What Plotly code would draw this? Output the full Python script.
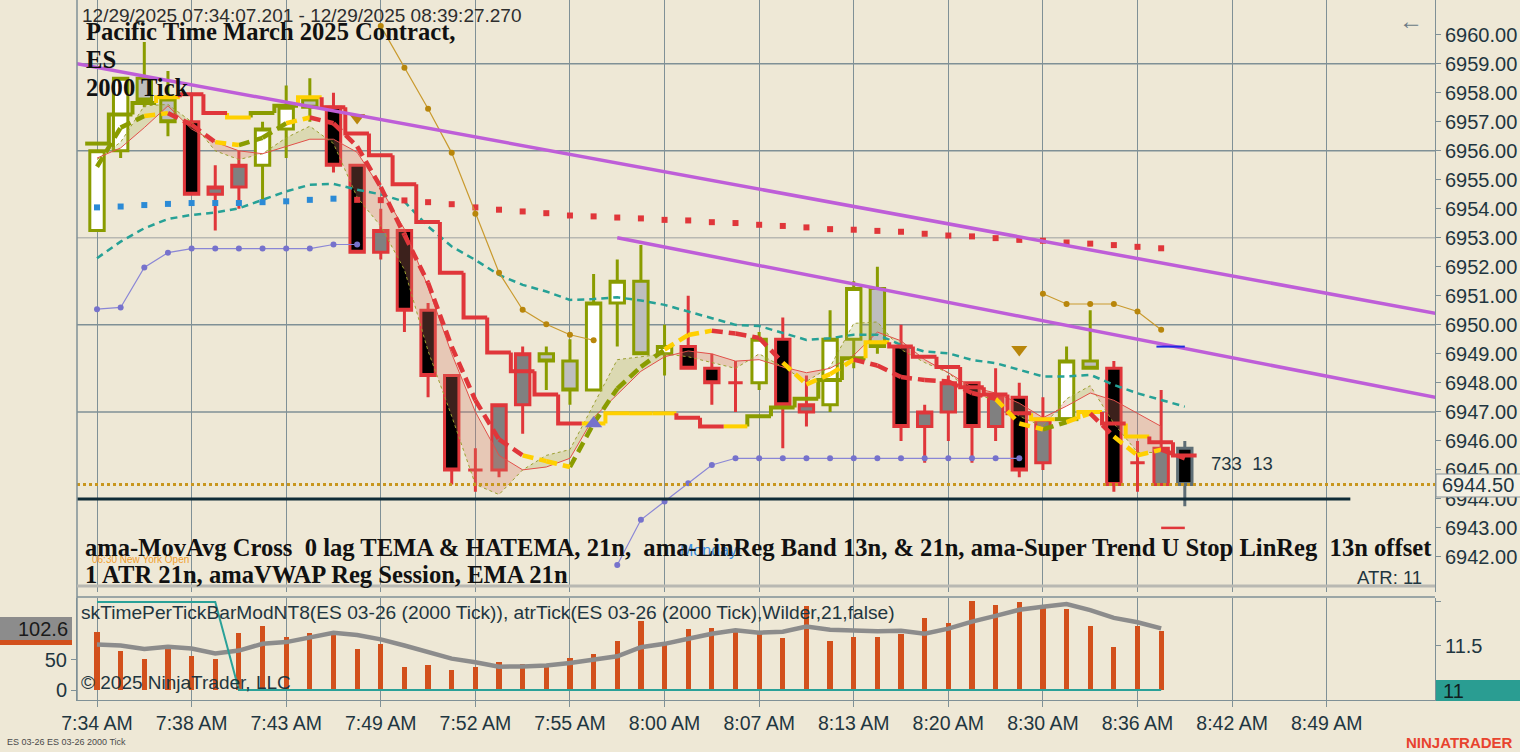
import plotly.graph_objects as go

# ---- price bars (2000 tick ES 03-26) ----
opens = [6953.25, 6956.0, 6958.5, 6957.75, 6957.0, 6954.5, 6954.75, 6955.5, 6956.75, 6957.75,
         6957.5, 6955.5, 6952.5, 6953.25, 6950.5, 6948.25, 6945.0, 6945.0, 6947.25, 6949.0,
         6948.75, 6947.75, 6950.75, 6951.5, 6949.0, 6949.25, 6948.5, 6948.0, 6948.0, 6949.5,
         6947.0, 6947.25, 6949.5, 6951.25, 6949.25, 6946.5, 6947.0, 6948.0, 6946.5, 6947.5,
         6945.25, 6946.75, 6948.75, 6948.5, 6945.25, 6944.5, 6945.75]
highs = [6956.0, 6958.5, 6959.75, 6958.75, 6958.0, 6955.5, 6956.0, 6957.0, 6958.25, 6958.5,
         6958.0, 6955.5, 6954.0, 6953.25, 6950.75, 6948.25, 6945.75, 6947.25, 6949.25, 6949.25,
         6949.5, 6951.75, 6952.25, 6952.75, 6950.0, 6951.0, 6949.0, 6948.75, 6949.75, 6950.25,
         6948.25, 6950.5, 6951.5, 6952.0, 6950.0, 6947.25, 6948.25, 6948.0, 6948.5, 6948.0,
         6947.5, 6949.25, 6950.5, 6948.75, 6946.0, 6947.75, 6946.0]
lows = [6953.25, 6955.75, 6957.5, 6956.5, 6954.5, 6953.25, 6954.0, 6954.25, 6955.75, 6957.0,
        6955.25, 6952.5, 6952.25, 6949.75, 6947.5, 6944.5, 6944.25, 6944.75, 6946.25, 6947.75,
        6947.25, 6947.75, 6949.25, 6949.0, 6948.25, 6948.5, 6947.25, 6947.0, 6947.75, 6945.75,
        6946.5, 6947.0, 6948.5, 6949.0, 6946.0, 6945.25, 6946.0, 6945.25, 6946.0, 6944.75,
        6945.0, 6946.75, 6948.5, 6944.25, 6944.25, 6944.5, 6943.75]
closes = [6956.0, 6958.5, 6957.75, 6957.0, 6954.5, 6954.75, 6955.5, 6956.75, 6957.5, 6957.5,
          6955.5, 6952.5, 6953.25, 6950.5, 6948.25, 6945.0, 6945.0, 6947.25, 6949.0, 6948.75,
          6947.75, 6950.75, 6951.5, 6949.0, 6949.25, 6948.5, 6948.0, 6948.0, 6949.5, 6947.25,
          6947.25, 6949.5, 6951.25, 6949.25, 6946.5, 6947.0, 6948.0, 6946.5, 6947.5, 6945.0,
          6946.75, 6948.75, 6948.5, 6944.5, 6945.25, 6945.75, 6944.5]
# paint-bar trend per closed bar: u = olive outline, d = red outline
bar_trend = list("uuuudddu uuddddddddduuuuuudddudduuuddddddduuddd".replace(" ", ""))

# ---- indicators ----
stop_line = [6956.25, 6957.25, 6957.65, 6957.85, 6957.95, 6957.3, 6957.15, 6957.3, 6957.55, 6957.85,
             6957.5, 6956.6, 6955.85, 6954.85, 6953.55, 6951.8, 6950.25, 6949.05, 6948.4, 6947.6,
             6946.6, 6946.6, 6946.95, 6946.95, 6946.95, 6946.8, 6946.5, 6946.5, 6946.85, 6947.15,
             6947.45, 6948.1, 6948.85, 6949.4, 6949.25, 6948.9, 6948.55, 6947.85, 6947.6, 6946.95,
             6946.75, 6946.75, 6947.0, 6946.6, 6946.15, 6945.95, 6945.5]
stop_state = list("gggyrryggyrrrrrrrrrrryyyyrrygggggyrrrrrrygyryrr")

tema = [6955.45, 6956.8, 6957.2, 6957.3, 6956.9, 6956.3, 6956.2, 6956.45, 6956.95, 6957.15,
        6956.95, 6956.15, 6954.75, 6953.1, 6951.45, 6949.25, 6947.4, 6946.05, 6945.5, 6945.3,
        6945.1, 6946.6, 6947.8, 6948.55, 6949.15, 6949.65, 6949.8, 6949.7, 6949.55, 6948.7,
        6947.95, 6948.3, 6948.8, 6948.6, 6948.2, 6948.1, 6948.05, 6947.65, 6947.45, 6946.6,
        6946.4, 6946.65, 6946.95, 6946.15, 6945.5, 6945.7, 6945.4]
tema_state = list("gggyrryggyrrrrrrrrryyggggyyrrryyyrrrrrryygyryyr")

hatema = [6955.75, 6956.1, 6956.8, 6957.55, 6956.75, 6956.3, 6956.0, 6955.9, 6956.15, 6956.4,
          6956.4, 6955.95, 6954.7, 6953.3, 6951.3, 6949.0, 6947.0, 6945.5, 6945.0, 6945.1,
          6945.4, 6946.8, 6947.6, 6948.4, 6948.9, 6949.1, 6949.0, 6948.75, 6948.8, 6948.55,
          6948.35, 6948.5, 6948.95, 6949.75, 6949.45, 6948.8, 6948.35, 6947.85, 6947.65, 6947.3,
          6946.8, 6947.2, 6947.65, 6947.4, 6946.95, 6946.5]
linreg = [6955.7, 6956.3, 6957.55, 6957.6, 6957.0, 6956.0, 6955.7, 6955.9, 6956.45, 6956.85,
          6956.25, 6954.4, 6953.4, 6951.9, 6949.1, 6946.85, 6944.5, 6944.15, 6945.0, 6945.5,
          6945.7, 6947.25, 6948.8, 6948.9, 6949.0, 6948.9, 6948.7, 6948.5, 6949.0, 6948.55,
          6948.05, 6948.55, 6950.05, 6950.1, 6949.15, 6948.7, 6948.35, 6947.65, 6947.4, 6946.85,
          6946.5, 6947.45, 6947.9, 6946.6, 6945.6, 6945.6]
ema21 = [6952.3, 6952.87, 6953.33, 6953.65, 6953.79, 6953.87, 6954.02, 6954.31, 6954.6, 6954.83,
         6954.86, 6954.66, 6954.5, 6954.25, 6953.39, 6952.7, 6952.24, 6951.72, 6951.38, 6951.15,
         6950.86, 6950.89, 6950.95, 6950.84, 6950.69, 6950.46, 6950.23, 6950.0, 6949.96, 6949.71,
         6949.48, 6949.54, 6949.66, 6949.66, 6949.31, 6949.08, 6949.02, 6948.79, 6948.68, 6948.45,
         6948.22, 6948.22, 6948.28, 6947.93, 6947.64, 6947.41, 6947.18]
stop_dots_up = [6954.05, 6954.08, 6954.13, 6954.17, 6954.2, 6954.2, 6954.2, 6954.23, 6954.26, 6954.31,
                6954.35]
stop_dots_dn = [6954.31, 6954.3, 6954.29, 6954.23, 6954.16, 6954.05, 6953.97, 6953.91, 6953.85, 6953.77,
                6953.74, 6953.7, 6953.67, 6953.62, 6953.6, 6953.54, 6953.51, 6953.45, 6953.41, 6953.36,
                6953.3, 6953.28, 6953.24, 6953.21, 6953.14, 6953.08, 6953.05, 6952.99, 6952.93, 6952.9,
                6952.84, 6952.8, 6952.75, 6952.69, 6952.64]
vwap_a_start = 0
vwap_a = [6950.54, 6950.6, 6951.98, 6952.49, 6952.63, 6952.63, 6952.63, 6952.63, 6952.63, 6952.63,
          6952.77, 6952.77]
vwap_b_start = 22
vwap_b = [6941.72, 6943.28, 6943.91, 6944.54, 6945.17, 6945.4, 6945.4, 6945.4, 6945.4, 6945.4,
          6945.4, 6945.4, 6945.4, 6945.4, 6945.4, 6945.4, 6945.4, 6945.4]
band_a_start = 12
band_a = [6960.3, 6958.86, 6957.45, 6955.93, 6953.83, 6951.8, 6950.52, 6950.02, 6949.66, 6949.47]
band_b_start = 40
band_b = [6951.07, 6950.72, 6950.72, 6950.72, 6950.46, 6949.83]

sell_sig_x = [11, 39]
sell_sig_y = [6957.15, 6949.15]
buy_sig_x = [21]
buy_sig_y = [6946.6]

trend1_x = [-0.85, 56.6]
trend1_y = [6959.0, 6950.4]
trend2_x = [22, 56.6]
trend2_y = [6953.0, 6947.5]
support_level = 6944.0
support_end = 53

# ---- lower panel ----
time_per_tick = [96.6, 65.7, 52.2, 69.7, 56.2, 52.2, 94.4, 106.2, 88.8, 94.9, 96.1, 68.5, 76.4, 38.8,
                 41.6, 33.7, 37.6, 46.1, 43.8, 41.6, 53.4, 60.7, 80.9, 114.6, 77.0, 101.0, 102.8,
                 101.0, 92.7, 86.0, 140.0, 81.5, 88.2, 88.2, 92.7, 120.0, 111.0, 147.8, 141.6, 146.0,
                 136.5, 134.8, 107.3, 71.9, 107.3, 97.8]
time_avg = [75.8, 74.2, 68.5, 71.9, 69.1, 60.7, 65.7, 76.9, 79.8, 87.1, 95.5, 91.6, 84.3, 74.2,
            62.9, 52.2, 46.1, 38.8, 39.3, 41.0, 44.9, 50.0, 56.2, 71.3, 76.9, 85.4, 93.8, 99.4, 95.5,
            97.2, 105.6, 100.5, 98.3, 97.8, 98.9, 93.8, 102.2, 114.0, 123.6, 133.7, 138.8, 143.3,
            133.1, 120.2, 112.9, 102.6]
atr_tick = [12, 12, 12, 12, 12, 12] + [11] * 40

tick_idx = [0, 4, 8, 12, 16, 20, 24, 28, 32, 36, 40, 44, 48, 52]
tick_text = ['7:34 AM', '7:38 AM', '7:43 AM', '7:49 AM', '7:52 AM', '7:55 AM', '8:00 AM', '8:07 AM',
             '8:13 AM', '8:20 AM', '8:30 AM', '8:36 AM', '8:42 AM', '8:49 AM']

BG = '#EEE8D6'
OLIVE = '#8A9C00'
RED = '#E0363A'
GOLD = '#FFD000'
GRID = '#7F9096'
TXT = '#1F3640'
SANS = 'Liberation Sans'
SERIF = 'Liberation Serif'
STATE_COL = {'g': OLIVE, 'y': GOLD, 'r': RED}

n = len(closes)
x_all = list(range(n))
X0, X1 = -0.846, 56.58

fig = go.Figure()

# candles
up_i = [i for i in range(n - 1) if bar_trend[i] == 'u']
dn_i = [i for i in range(n - 1) if bar_trend[i] == 'd']


def pick(arr, idx):
    return [arr[i] for i in idx]


fig.add_trace(go.Candlestick(
    x=up_i, open=pick(opens, up_i), high=pick(highs, up_i), low=pick(lows, up_i), close=pick(closes, up_i),
    increasing=dict(line=dict(color=OLIVE, width=3), fillcolor='white'),
    decreasing=dict(line=dict(color=OLIVE, width=3), fillcolor='#BEBEBE'),
    whiskerwidth=0, hoverinfo='skip', showlegend=False))
fig.add_trace(go.Candlestick(
    x=dn_i, open=pick(opens, dn_i), high=pick(highs, dn_i), low=pick(lows, dn_i), close=pick(closes, dn_i),
    increasing=dict(line=dict(color=RED, width=3), fillcolor='#808080'),
    decreasing=dict(line=dict(color=RED, width=3), fillcolor='black'),
    whiskerwidth=0, hoverinfo='skip', showlegend=False))
last = [n - 1]
fig.add_trace(go.Candlestick(
    x=last, open=pick(opens, last), high=pick(highs, last), low=pick(lows, last), close=pick(closes, last),
    increasing=dict(line=dict(color='#5E6E76', width=3), fillcolor='black'),
    decreasing=dict(line=dict(color='#5E6E76', width=3), fillcolor='black'),
    whiskerwidth=0, hoverinfo='skip', showlegend=False))

# LinReg band fill between the two thin lines
for above, col in [(True, 'rgba(215,120,100,0.28)'), (False, 'rgba(165,170,70,0.25)')]:
    fx, fy = [], []
    for i in range(len(hatema) - 1):
        if ((hatema[i] + hatema[i + 1]) >= (linreg[i] + linreg[i + 1])) != above:
            continue
        fx += [i, i + 1, i + 1, i, i, None]
        fy += [hatema[i], hatema[i + 1], linreg[i + 1], linreg[i], hatema[i], None]
    fig.add_trace(go.Scatter(x=fx, y=fy, fill='toself', fillcolor=col, mode='none',
                             hoverinfo='skip', showlegend=False))

fig.add_trace(go.Scatter(x=x_all[:len(linreg)], y=linreg, mode='lines',
                         line=dict(color='#9CA030', width=1, dash='dot'), hoverinfo='skip', showlegend=False))
fig.add_trace(go.Scatter(x=x_all[:len(hatema)], y=hatema, mode='lines',
                         line=dict(color='#E2504A', width=1), hoverinfo='skip', showlegend=False))

# EMA 21
fig.add_trace(go.Scatter(x=x_all, y=ema21, mode='lines',
                         line=dict(color='#26A196', width=2.5, dash='7px,5px'), hoverinfo='skip', showlegend=False))

# stop dots
fig.add_trace(go.Scatter(x=list(range(len(stop_dots_up))), y=stop_dots_up, mode='markers',
                         marker=dict(symbol='square', size=6, color='#2B8AD6'), hoverinfo='skip', showlegend=False))
dn_start = len(stop_dots_up)
fig.add_trace(go.Scatter(x=list(range(dn_start, dn_start + len(stop_dots_dn))), y=stop_dots_dn, mode='markers',
                         marker=dict(symbol='square', size=6, color=RED), hoverinfo='skip', showlegend=False))

# VWAP-style dotted lines
for start, vals in [(vwap_a_start, vwap_a), (vwap_b_start, vwap_b)]:
    fig.add_trace(go.Scatter(x=list(range(start, start + len(vals))), y=vals, mode='lines+markers',
                             line=dict(color='#8A86D6', width=1.2), marker=dict(size=6, color='#7672CC'),
                             hoverinfo='skip', showlegend=False))
for start, vals in [(band_a_start, band_a), (band_b_start, band_b)]:
    fig.add_trace(go.Scatter(x=list(range(start, start + len(vals))), y=vals, mode='lines+markers',
                             line=dict(color='#C99A2E', width=1.2), marker=dict(size=6, color='#B8860B'),
                             hoverinfo='skip', showlegend=False))

# super trend stop (stepped, coloured per bar)
for code, col in STATE_COL.items():
    sx, sy = [], []
    for i, v in enumerate(stop_line):
        if stop_state[i] != code:
            continue
        prev = stop_line[i - 1] if i > 0 else v
        sx += [i - 0.5, i - 0.5, i + 0.5, None]
        sy += [prev, v, v, None]
    fig.add_trace(go.Scatter(x=sx, y=sy, mode='lines', line=dict(color=col, width=4),
                             hoverinfo='skip', showlegend=False))

# TEMA (dashed, coloured per segment)
for code, col in STATE_COL.items():
    tx, ty = [], []
    for i in range(1, len(tema)):
        if tema_state[i] != code:
            continue
        tx += [i - 1, i, None]
        ty += [tema[i - 1], tema[i], None]
    fig.add_trace(go.Scatter(x=tx, y=ty, mode='lines', line=dict(color=col, width=4.5, dash='11px,6px'),
                             hoverinfo='skip', showlegend=False))

# signals
fig.add_trace(go.Scatter(x=sell_sig_x, y=sell_sig_y, mode='markers',
                         marker=dict(symbol='triangle-down', size=14, color='#B8860B'),
                         hoverinfo='skip', showlegend=False))
fig.add_trace(go.Scatter(x=buy_sig_x, y=buy_sig_y, mode='markers',
                         marker=dict(symbol='triangle-up', size=15, color='#7672CC'),
                         hoverinfo='skip', showlegend=False))

# drawn trend lines / levels
for tx, ty in [(trend1_x, trend1_y), (trend2_x, trend2_y)]:
    fig.add_trace(go.Scatter(x=tx, y=ty, mode='lines', line=dict(color='#BE5ED8', width=3.5),
                             hoverinfo='skip', showlegend=False))
fig.add_trace(go.Scatter(x=[X0, support_end], y=[support_level, support_level], mode='lines',
                         line=dict(color='#0F2B36', width=3), hoverinfo='skip', showlegend=False))
fig.add_trace(go.Scatter(x=[X0, X1], y=[closes[-1], closes[-1]], mode='lines',
                         line=dict(color='#C8961E', width=3, dash='dot'), hoverinfo='skip', showlegend=False))
fig.add_trace(go.Scatter(x=[44.8, 46.0], y=[6949.25, 6949.25], mode='lines',
                         line=dict(color='#1E2BE0', width=2), hoverinfo='skip', showlegend=False))
fig.add_trace(go.Scatter(x=[45.0, 46.0], y=[6943.0, 6943.0], mode='lines',
                         line=dict(color=RED, width=2.5), hoverinfo='skip', showlegend=False))

# lower panel
fig.add_trace(go.Bar(x=list(range(len(time_per_tick))), y=time_per_tick, width=0.22,
                     marker=dict(color='#D2501C', line=dict(width=0)), xaxis='x2', yaxis='y2',
                     hoverinfo='skip', showlegend=False))
fig.add_trace(go.Scatter(x=list(range(len(time_avg))), y=time_avg, mode='lines',
                         line=dict(color='#8C8C8C', width=4.5), xaxis='x2', yaxis='y2',
                         hoverinfo='skip', showlegend=False))
fig.add_trace(go.Scatter(x=list(range(len(atr_tick))), y=atr_tick, mode='lines',
                         line=dict(color='#2AA198', width=2), xaxis='x2', yaxis='y3',
                         hoverinfo='skip', showlegend=False))

# ---- layout ----
W, H = 1520, 752
L, R, T, B = 77, 85, 0, 52


def px(x):
    return (x - L) / (W - L - R)


def py(y):
    return (H - B - y) / (H - T - B)


main_dom = [py(592), 1]
low_dom = [0, py(598)]

fig.update_layout(
    width=W, height=H, margin=dict(l=L, r=R, t=T, b=B, pad=0),
    paper_bgcolor=BG, plot_bgcolor=BG, boxgap=0.22, boxgroupgap=0.22,
    font=dict(family=SANS, color=TXT, size=17), showlegend=False, bargap=0,
    xaxis=dict(domain=[0, 1], range=[X0, X1], anchor='y', tickvals=tick_idx, showticklabels=False,
               showgrid=True, gridcolor=GRID, gridwidth=1, zeroline=False, ticks='',
               rangeslider=dict(visible=False), fixedrange=True),
    yaxis=dict(domain=main_dom, range=[6940.79, 6961.2], side='right', anchor='x',
               tickvals=list(range(6942, 6961)), ticktext=[f'{v}.00' for v in range(6942, 6961)],
               ticks='outside', ticklen=5, tickcolor=GRID, showgrid=False, zeroline=False,
               showline=True, linecolor=GRID, tickfont=dict(size=20, color=TXT)),
    xaxis2=dict(domain=[0, 1], range=[X0, X1], anchor='y2', tickvals=tick_idx, ticktext=tick_text,
                showgrid=True, gridcolor=GRID, zeroline=False, ticks='outside', ticklen=6, tickcolor=GRID,
                showline=True, linecolor=GRID, tickfont=dict(size=19.5, color=TXT)),
    yaxis2=dict(domain=low_dom, range=[-16.67, 153.3], anchor='x2', side='left', tickvals=[0, 50],
                ticks='outside', ticklen=5, tickcolor=GRID, showgrid=False, zeroline=False,
                showline=True, linecolor=GRID, tickfont=dict(size=20, color=TXT)),
    yaxis3=dict(domain=low_dom, range=[10.886, 12.045], anchor='x2', overlaying='y2', side='right',
                tickvals=[11.5, 12], ticktext=['11.5', ''], ticks='outside', ticklen=5, tickcolor=GRID,
                showgrid=False, zeroline=False, showline=True, linecolor=GRID,
                tickfont=dict(size=20, color=TXT)),
)

shapes = []
for lvl, col in [(6959, GRID), (6956, GRID), (6953, '#B8B8B2'), (6950, GRID), (6947, GRID)]:
    shapes.append(dict(type='line', xref='paper', yref='y', x0=0, x1=1, y0=lvl, y1=lvl,
                       line=dict(color=col, width=1.5), layer='below'))
shapes += [
    dict(type='line', xref='paper', yref='paper', x0=0, x1=0, y0=0, y1=1, line=dict(color=GRID, width=1.5)),
    dict(type='line', xref='paper', yref='paper', x0=0, x1=1, y0=py(586), y1=py(586),
         line=dict(color='#B8B8B2', width=3)),
    dict(type='line', xref='paper', yref='paper', x0=0, x1=1, y0=py(597), y1=py(597),
         line=dict(color=GRID, width=1.5)),
    # price marker boxes
    dict(type='rect', xref='paper', yref='paper', x0=px(1436), x1=px(1522), y0=py(497), y1=py(474),
         fillcolor='#F3F0E4', line=dict(color='#8A9499', width=1)),
    dict(type='rect', xref='paper', yref='paper', x0=px(0), x1=px(72), y0=py(641), y1=py(617),
         fillcolor='#8C8C8C', line=dict(width=0)),
    dict(type='rect', xref='paper', yref='paper', x0=px(0), x1=px(72), y0=py(645), y1=py(640),
         fillcolor='#D2501C', line=dict(width=0)),
    dict(type='rect', xref='paper', yref='paper', x0=px(1436), x1=px(1522), y0=py(701), y1=py(680),
         fillcolor='#2A9D92', line=dict(width=0)),
]
fig.update_layout(shapes=shapes)

ann = []


def text(x, y, s, size=17, color=TXT, family=SANS, xanchor='left', bold=False):
    if bold:
        s = f'<b>{s}</b>'
    ann.append(dict(xref='paper', yref='paper', x=px(x), y=py(y), text=s, showarrow=False,
                    xanchor=xanchor, yanchor='middle', font=dict(size=size, color=color, family=family)))


NB = '\u00a0'
text(80, 15, '12/29/2025 07:34:07.201 - 12/29/2025 08:39:27.270', size=19, color='#2E2E2E')
text(84, 32, 'Pacific Time March 2025 Contract,', size=24.6, color='#111111', family=SERIF, bold=True)
text(84, 59, 'ES', size=24.6, color='#111111', family=SERIF, bold=True)
text(84, 87, '2000 Tick', size=24.6, color='#111111', family=SERIF, bold=True)
text(1411, 20, '\u2190', size=24, color='#6A7A85', xanchor='center')
text(678, 550, 'Monday', size=16, color='#3A8EE0')
text(90, 559, '06:30 New York Open', size=10, color='#F0A030')
text(83, 547, f'ama-MovAvg Cross {NB}0 lag TEMA &amp; HATEMA, 21n, {NB}ama-LinReg Band 13n, &amp; 21n, '
              f'ama-Super Trend U Stop LinReg {NB}13n offset', size=24.6, color='#111111', family=SERIF, bold=True)
text(83, 574, '1 ATR 21n, amaVWAP Reg Session, EMA 21n', size=24.6, color='#111111', family=SERIF, bold=True)
text(1424, 577, 'ATR: 11', size=18.5, xanchor='right')
text(1209, 463, f'733 {NB}13', size=18.5)
text(1440, 485, f'{closes[-1]:.2f}', size=20)
text(79, 612, 'skTimePerTickBarModNT8(ES 03-26 (2000 Tick)), atrTick(ES 03-26 (2000 Tick),Wilder,21,false)',
     size=19.2)
text(79, 682, '\u00a9 2025 NinjaTrader, LLC', size=19)
text(70, 629, f'{time_avg[-1]:.1f}', size=20, color='#1A1A1A', xanchor='right')
text(1441, 691, f'{atr_tick[-1]}', size=20, color='#102020')
text(5, 742, 'ES 03-26 ES 03-26 2000 Tick', size=9, color='#4A4A4A')
text(1515, 742, 'NINJATRADER', size=15, color='#E8432E', xanchor='right', bold=True)
fig.update_layout(annotations=ann)

fig.write_html("out.html", config={'displayModeBar': False},
               post_script="document.body.style.margin='0';")
